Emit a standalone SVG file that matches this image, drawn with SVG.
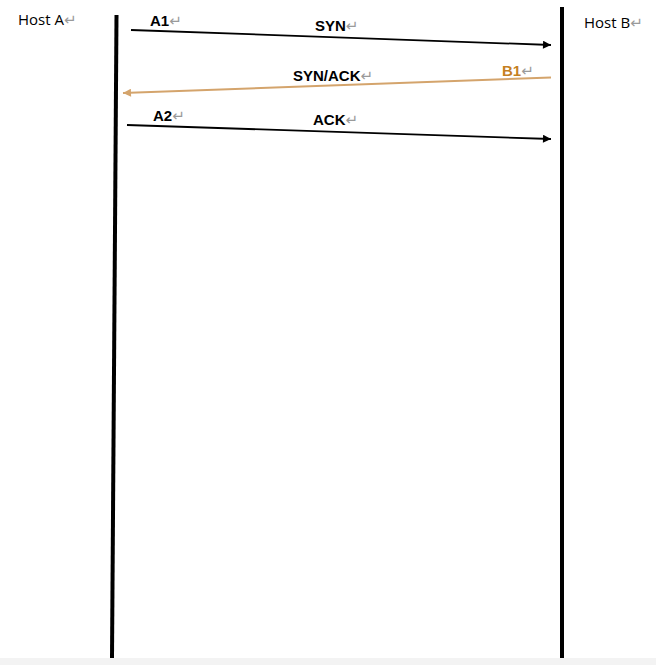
<svg xmlns="http://www.w3.org/2000/svg" width="656" height="665" viewBox="0 0 656 665">
<style>
.lbl{font-family:"Liberation Sans","DejaVu Sans",sans-serif;font-size:15px;font-weight:bold;fill:#000}
.host{font-family:"Open Sans","Liberation Sans",sans-serif;font-size:15px;fill:#000}
.ret{font-family:"DejaVu Sans",sans-serif;font-weight:normal;fill:#9a9a9a;font-size:15px}
.life{stroke:#000;stroke-width:4;fill:none}
.msg{stroke:#000;stroke-width:1.8;fill:none}
.msgo{stroke:#d4a46c;stroke-width:2;fill:none}
</style>
<defs>
<marker id="ahb" viewBox="0 0 10 10" refX="10" refY="5" markerWidth="10" markerHeight="8" orient="auto" markerUnits="userSpaceOnUse">
<path d="M0,0 L10,5 L0,10 z" fill="#000"/>
</marker>
<marker id="aho" viewBox="0 0 10 10" refX="10" refY="5" markerWidth="11" markerHeight="8" orient="auto" markerUnits="userSpaceOnUse">
<path d="M0,0 L10,5 L0,10 z" fill="#d4a46c"/>
</marker>
</defs>
<rect x="0" y="0" width="656" height="665" fill="#fff"/>
<rect x="0" y="658" width="656" height="7" fill="#f3f3f3"/>
<g id="hostA">
<line class="life" x1="116.5" y1="15" x2="112" y2="658"/>
<text class="host" x="18" y="25">Host A<tspan class="ret">↵</tspan></text>
</g>
<g id="hostB">
<line class="life" x1="562" y1="7" x2="562" y2="658"/>
<text class="host" x="584" y="28">Host B<tspan class="ret">↵</tspan></text>
</g>
<g id="connectors">
<line class="msg" x1="131" y1="30" x2="551" y2="45" marker-end="url(#ahb)"/>
<line class="msgo" x1="551" y1="77.5" x2="123" y2="93" marker-end="url(#aho)"/>
<line class="msg" x1="127" y1="125" x2="551" y2="139" marker-end="url(#ahb)"/>
</g>
<g id="labels">
<text class="lbl" x="150" y="26">A1<tspan class="ret">↵</tspan></text>
<text class="lbl" x="315" y="31">SYN<tspan class="ret">↵</tspan></text>
<text class="lbl" x="293" y="81">SYN/ACK<tspan class="ret">↵</tspan></text>
<text class="lbl" x="502" y="76" style="fill:#c5801f">B1<tspan class="ret">↵</tspan></text>
<text class="lbl" x="153" y="121">A2<tspan class="ret">↵</tspan></text>
<text class="lbl" x="313" y="125">ACK<tspan class="ret">↵</tspan></text>
</g>
</svg>
